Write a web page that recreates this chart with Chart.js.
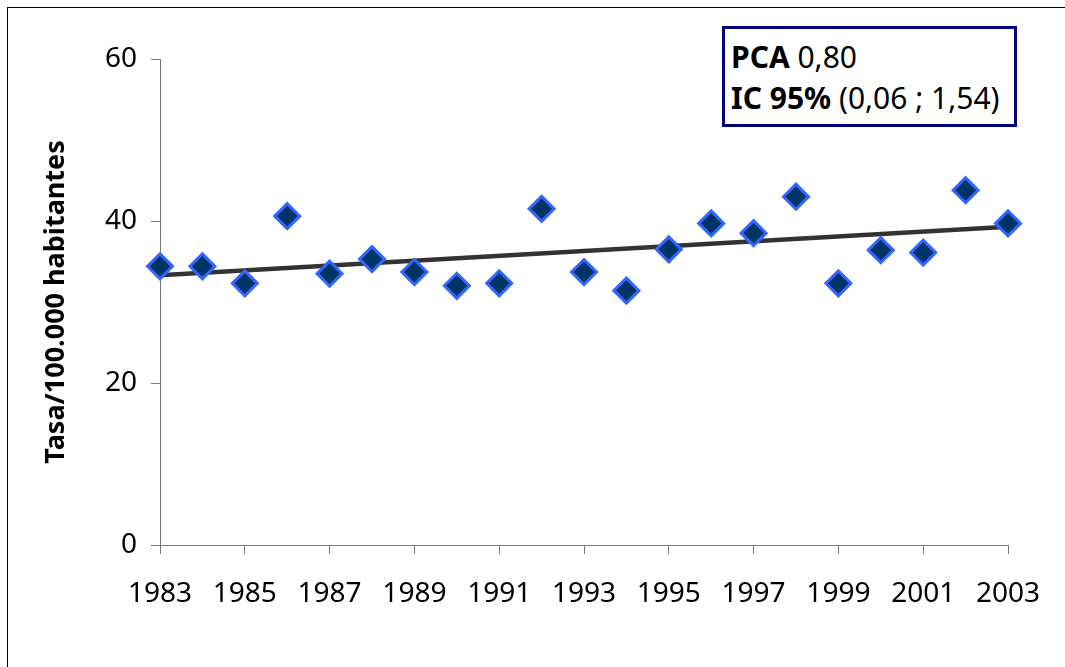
<!DOCTYPE html>
<html>
<head>
<meta charset="utf-8">
<script src="https://cdn.jsdelivr.net/npm/chart.js@4"></script>
<style>
  body { margin: 0; background: #fff; }
  #wrap { position: relative; width: 1065px; height: 667px; overflow: hidden; }
  #frame { position: absolute; left: 7px; top: 7px; width: 1100px; height: 700px; border: 1px solid #000; }
  #box {
    position: absolute; left: 722px; top: 26px; width: 289px; height: 95px;
    border: 3px solid #000080; background: #fff; box-sizing: content-box;
    font-family: "Noto Sans", sans-serif; font-size: 30px; line-height: 41px;
    padding: 0; color: #000;
  }
  #box div { position: relative; left: 6px; top: 7px; white-space: nowrap; }
</style>
</head>
<body>
<div id="wrap">
  <div id="frame"></div>
  <canvas id="myChart" width="1065" height="667"></canvas>
  <div id="box"><div><b>PCA</b> 0,80<br><b>IC 95%</b> (0,06 ; 1,54)</div></div>
</div>
<script>
// data
var years = [1983, 1984, 1985, 1986, 1987, 1988, 1989, 1990, 1991, 1992, 1993,
             1994, 1995, 1996, 1997, 1998, 1999, 2000, 2001, 2002, 2003];
var rates = [34.4, 34.4, 32.3, 40.6, 33.5, 35.3, 33.7, 32.0, 32.3, 41.5, 33.7,
             31.4, 36.5, 39.7, 38.5, 43.0, 32.3, 36.4, 36.1, 43.8, 39.7];
// trend line ends
var trendYears = [1983, 2003];
var trendRates = [33.3, 39.3];
var yTicks = [0, 20, 40, 60];

var points = years.map((y, i) => ({x: y, y: rates[i]}));
var trend = trendYears.map((y, i) => ({x: y, y: trendRates[i]}));

var axisColor = '#7a7a7a';
var font = {family: 'Noto Sans', size: 28};

var ctx = document.getElementById('myChart').getContext('2d');
var chart = new Chart(ctx, {
  type: 'scatter',
  data: {
    datasets: [{
      label: 'Tasa',
      data: points,
      pointStyle: 'rectRot',
      pointRadius: 12.5,
      pointHoverRadius: 12.5,
      backgroundColor: '#003366',
      borderColor: '#3366ff',
      borderWidth: 3,
      clip: false,
      order: 0
    }, {
      label: 'Tendencia',
      data: trend,
      showLine: true,
      borderColor: '#333333',
      borderWidth: 4.5,
      pointRadius: 0,
      clip: false,
      order: 1
    }]
  },
  options: {
    responsive: false,
    animation: false,
    layout: { padding: {left: 0, right: 57, top: 59, bottom: 0} },
    plugins: { legend: {display: false}, tooltip: {enabled: false} },
    scales: {
      x: {
        type: 'linear',
        min: 1983,
        max: 2003,
        afterFit: (s) => { s.height = 122; },
        ticks: {
          stepSize: 2,
          color: '#000',
          font: font,
          padding: 23,
          maxRotation: 0,
          callback: (v) => String(v)
        },
        grid: { drawOnChartArea: false, drawTicks: true, tickLength: 9, color: axisColor },
        border: { color: axisColor, width: 1 }
      },
      y: {
        min: 0,
        max: 60,
        afterFit: (s) => { s.width = 160; },
        afterBuildTicks: (s) => { s.ticks = yTicks.map(v => ({value: v})); },
        ticks: { color: '#000', font: font, padding: 14 },
        grid: { drawOnChartArea: false, drawTicks: true, tickLength: 9, color: axisColor },
        border: { color: axisColor, width: 1 },
        title: {
          display: true,
          text: 'Tasa/100.000 habitantes',
          color: '#000',
          font: {family: 'Noto Sans', size: 27, weight: 'bold', lineHeight: 1.2},
          padding: {top: 40, bottom: 0}
        }
      }
    }
  }
});
</script>
</body>
</html>
